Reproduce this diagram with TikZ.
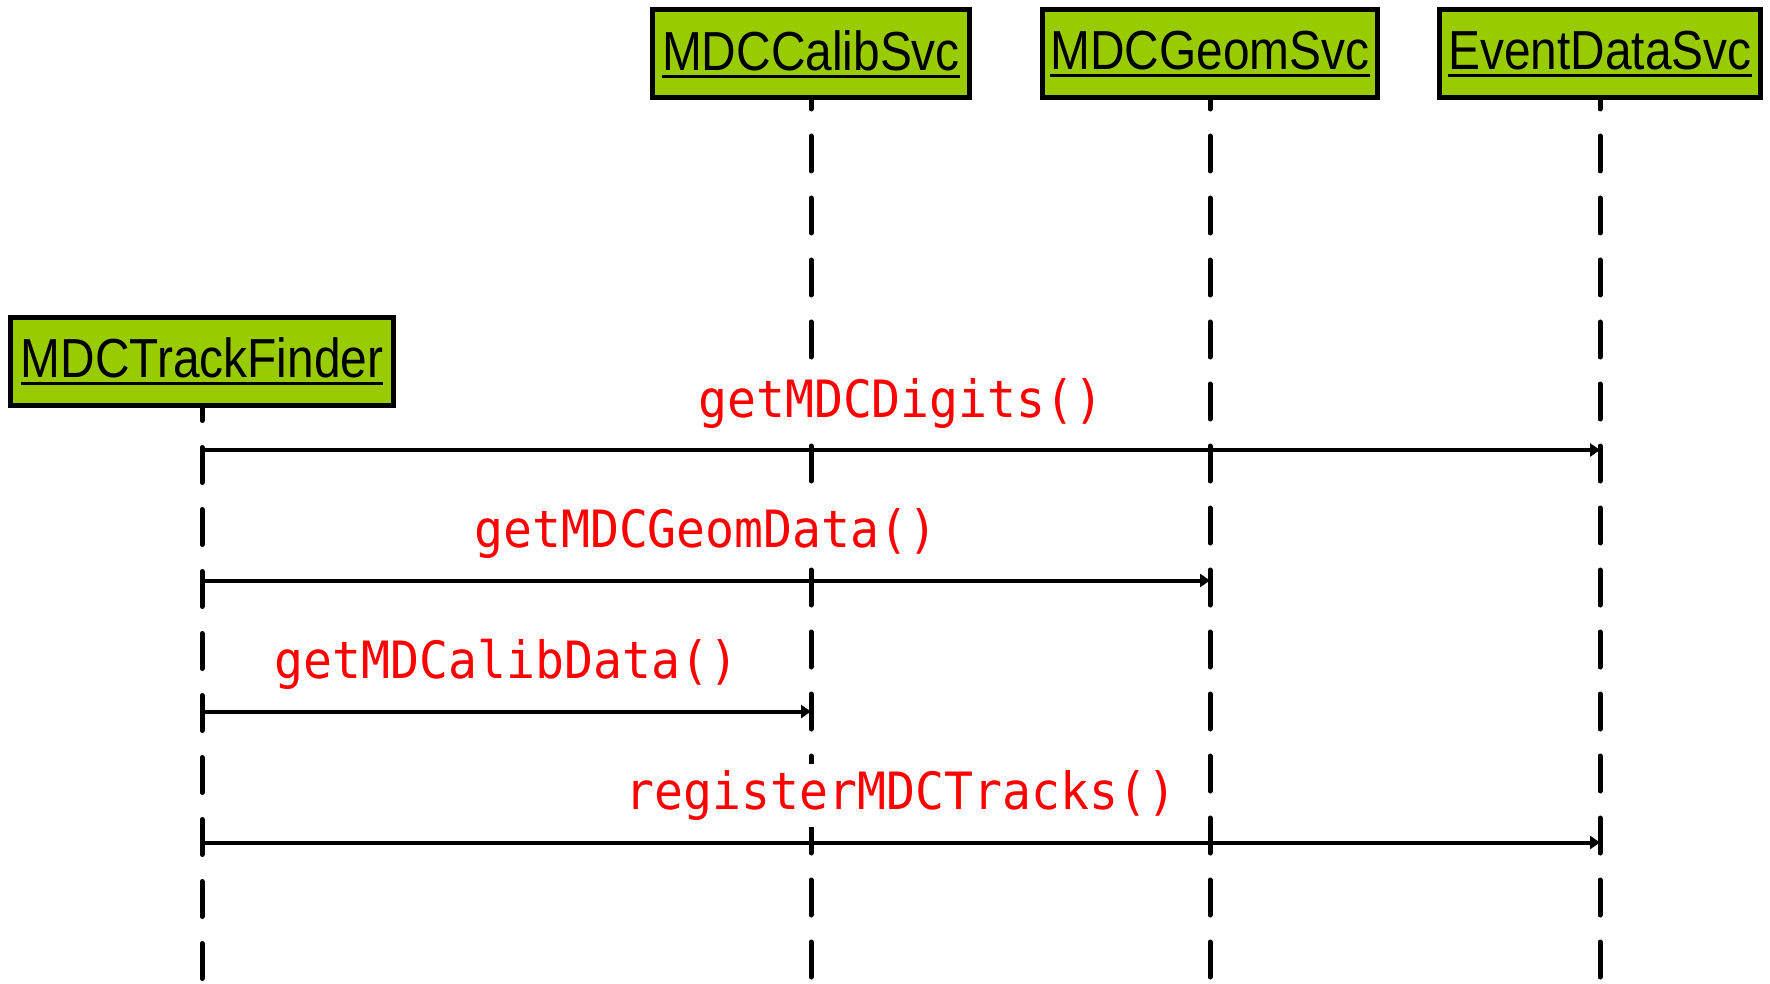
\documentclass[tikz,border=0pt]{standalone}
\usepackage{fontspec}
\setmainfont{Liberation Sans}
\newfontfamily\boxfont[FakeStretch=0.87]{Liberation Sans}
\newfontfamily\msgfont[FakeStretch=0.937]{DejaVu Sans Mono}
\usetikzlibrary{arrows.meta}
\definecolor{boxgreen}{RGB}{153,204,0}
\newcommand\ulbox[1]{\setbox0\hbox{#1}\rlap{\rule[-7.5pt]{\wd0}{3pt}}\box0}
\begin{document}
\begin{tikzpicture}[x=1pt,y=-1pt,
  obj/.style={draw=black, line width=5pt, fill=boxgreen, inner sep=0pt,
    font=\boxfont\fontsize{55}{60}\selectfont, text=black, minimum height=88pt},
  lifeline/.style={line width=5pt, line cap=round, dash pattern=on 35pt off 27pt},
  msg/.style={line width=4pt, -{Triangle[length=10pt,width=13pt]}},
  lbl/.style={text=red, fill=white, font=\msgfont\fontsize{51.4}{56}\selectfont,
    inner xsep=1pt, inner ysep=6pt, anchor=base, yshift=33pt}]
\useasboundingbox (0,0) rectangle (1770,984);
\node[obj, minimum width=383pt] (tf) at (202,361.5) {\ulbox{MDCTrackFinder}};
\node[obj, minimum width=317pt] (cal) at (811,54) {\ulbox{MDCCalibSvc}};
\node[obj, minimum width=335pt] (geo) at (1210,54) {\ulbox{MDCGeomSvc}};
\node[obj, minimum width=321pt] (evt) at (1600,54) {\ulbox{EventDataSvc}};
\coordinate (bottom) at (0,984);
\draw[lifeline, dash phase=22.5pt] (tf.south) -- (tf.south |- bottom);
\draw[lifeline, dash phase=26.5pt] (cal.south) -- (cal.south |- bottom);
\draw[lifeline, dash phase=26.5pt] (geo.south) -- (geo.south |- bottom);
\draw[lifeline, dash phase=26.5pt] (evt.south) -- (evt.south |- bottom);
\coordinate (m1) at (0,450);
\coordinate (m2) at (0,580.5);
\coordinate (m3) at (0,711.5);
\coordinate (m4) at (0,842.5);
\draw[msg] (tf |- m1) -- node[lbl] (l1) {getMDCDigits()} (evt |- m1);
\draw[msg] (tf |- m2) -- node[lbl] (l2) {getMDCGeomData()} (geo |- m2);
\draw[msg] (tf |- m3) -- node[lbl] (l3) {getMDCalibData()} (cal |- m3);
\draw[msg] (tf |- m4) -- node[lbl] (l4) {registerMDCTracks()} (evt |- m4);
\end{tikzpicture}
\end{document}
